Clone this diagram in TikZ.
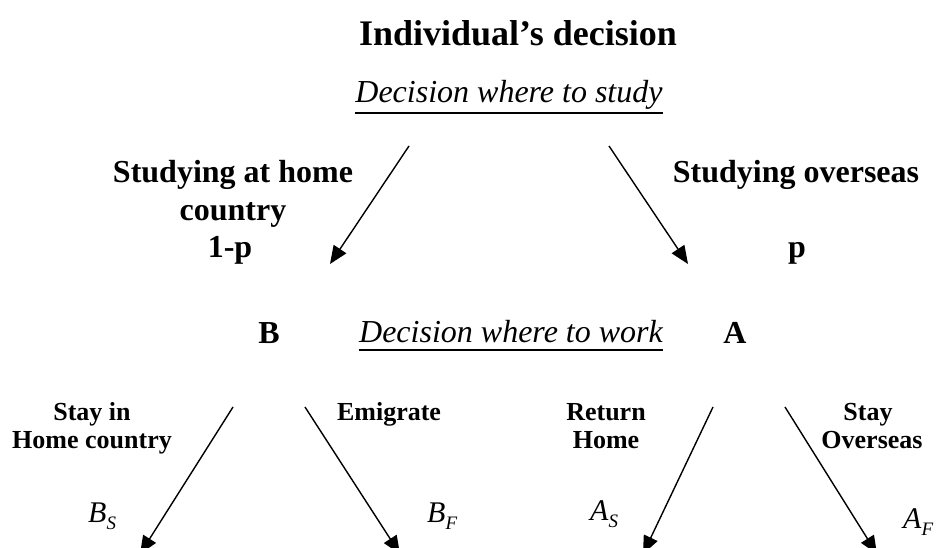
\documentclass[tikz,border=0pt]{standalone}
\usepackage{fontspec}
\setmainfont{Liberation Serif}
\usetikzlibrary{arrows.meta}
\begin{document}
\begin{tikzpicture}[x=1pt,y=-1pt,
  every node/.style={inner sep=0pt, anchor=base},
  ttl/.style={font=\bfseries\fontsize{36}{42}\selectfont},
  dec/.style={font=\itshape\fontsize{32}{36}\selectfont},
  lbl/.style={font=\bfseries\fontsize{32}{36}\selectfont},
  sml/.style={font=\bfseries\fontsize{26}{30}\selectfont},
  mth/.style={anchor=base west, font=\itshape\fontsize{30}{34}\selectfont},
  arr/.style={line width=1.4pt, -{Triangle[length=18pt,width=15pt]}},
  ul/.style={line width=1.8pt}
]
\newcommand{\subsc}[1]{\raisebox{-7pt}{\fontsize{19}{21}\selectfont #1}}
\useasboundingbox (0,0) rectangle (940,548);
\fill[white] (0,0) rectangle (940,548);

% titles
\node[ttl] (title) at (518,46) {Individual’s decision};
\node[dec] (ds) at (509,103) {Decision where to study};
\draw[ul] ([yshift=-10pt]ds.base west) -- ([yshift=-10pt]ds.base east);
\node[dec] (dw) at (511,342) {Decision where to work};
\draw[ul] ([yshift=-8pt]dw.base west) -- ([yshift=-8pt]dw.base east);

% first level
\node[lbl] (sh1) at (233,183) {Studying at home};
\node[lbl] (sh2) at (233,221) {country};
\node[lbl] (sh3) at (230,258) {1-p};
\node[lbl] (so1) at (796,183) {Studying overseas};
\node[lbl] (so2) at (797,258) {p};
\node[lbl] (B) at (269,343) {B};
\node[lbl] (A) at (735,343) {A};

\coordinate (t1s) at (409,146); \coordinate (t1e) at (330,264);
\coordinate (t2s) at (609,146); \coordinate (t2e) at (688,264);
\draw[arr] (t1s) -- (t1e);
\draw[arr] (t2s) -- (t2e);

% second level
\node[sml] (st1) at (92,420) {Stay in};
\node[sml] (st2) at (92,448) {Home country};
\node[sml] (em) at (389,420) {Emigrate};
\node[sml] (re1) at (606,420) {Return};
\node[sml] (re2) at (606,448) {Home};
\node[sml] (sy1) at (868,420) {Stay};
\node[sml] (sy2) at (872,448) {Overseas};

\node[mth] (BS) at (88,522) {B\subsc{S}};
\node[mth] (BF) at (427,522) {B\subsc{F}};
\node[mth] (AS) at (590,520) {A\subsc{S}};
\node[mth] (AF) at (903,528) {A\subsc{F}};

\coordinate (b1s) at (233,407); \coordinate (b1e) at (140,554);
\coordinate (b2s) at (305,407); \coordinate (b2e) at (400,554);
\coordinate (b3s) at (713,407); \coordinate (b3e) at (643,554);
\coordinate (b4s) at (785,407); \coordinate (b4e) at (877,554);
\draw[arr] (b1s) -- (b1e);
\draw[arr] (b2s) -- (b2e);
\draw[arr] (b3s) -- (b3e);
\draw[arr] (b4s) -- (b4e);
\end{tikzpicture}
\end{document}
